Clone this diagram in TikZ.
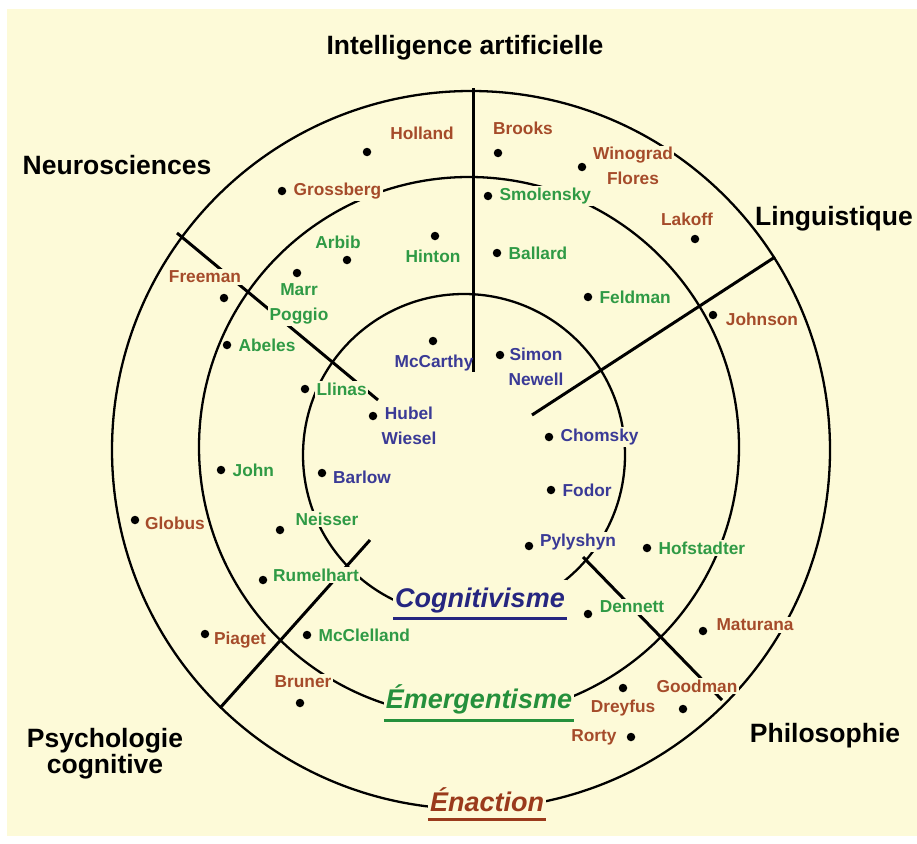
\documentclass[tikz,border=0pt]{standalone}
\usepackage{fontspec}
\setmainfont{Liberation Sans}
\usetikzlibrary{positioning}
\definecolor{cream}{HTML}{FDFAD8}
\definecolor{enact}{HTML}{A54B2A}
\definecolor{emerg}{HTML}{2F9A45}
\definecolor{cogn}{HTML}{3A3A96}
\definecolor{enactdark}{HTML}{9A3A1C}
\definecolor{emergdark}{HTML}{25903C}
\definecolor{cogndark}{HTML}{262680}
\tikzset{
  ring/.style={line width=2.3pt},
  axis/.style={line width=3pt},
  spot/.style={circle,fill=black,inner sep=0pt,minimum size=8.5pt},
  who/.style={fill=cream,inner sep=1.5pt,align=center,
    font=\fontsize{17.3}{24.5}\selectfont\bfseries},
  ena/.style={who,text=enact},
  eme/.style={who,text=emerg},
  cog/.style={who,text=cogn},
  field/.style={inner sep=0pt,align=center,font=\fontsize{26.5}{24}\selectfont\bfseries},
  school/.style={fill=cream,inner xsep=2pt,inner ysep=7pt,anchor=base,
    font=\fontsize{27}{30}\selectfont\bfseries\itshape},
  uline/.style={line width=3pt}
}
\begin{document}
\begin{tikzpicture}[x=1pt,y=-1pt,node distance=5.5pt]
    \useasboundingbox (0,0) rectangle (917,843);
    \fill[white] (0,0) rectangle (917,843);
    \fill[cream] (7,9) rectangle (917,836);
    \draw[ring] (471,450) circle[radius=359pt];
    \draw[ring] (469,447) circle[radius=270pt];
    \draw[ring] (464,455) circle[radius=161pt];
    \draw[axis] (473,88) -- (473,372);
    \draw[axis] (775,257) -- (532,415);
    \draw[axis] (177,233) -- (378,400);
    \draw[axis] (220,708) -- (370,540);
    \draw[axis] (722,700) -- (583,557);

    \node[field] (ia) at (465,48) {Intelligence artificielle};
    \node[field] (neuro) at (117,165) {Neurosciences};
    \node[field,anchor=west] (ling) at (755,219) {Linguistique};
    \node[field] (psycho) at (105,754) {Psychologie\\cognitive};
    \node[field] (philo) at (825,736) {Philosophie};

    \node[school,text=cogndark] (cognitivisme) at (480,607) {Cognitivisme};
    \node[school,text=emergdark] (emergentisme) at (479,708) {Émergentisme};
    \node[school,text=enactdark] (enaction) at (487,811) {Énaction};
    \draw[uline,cogndark] ([yshift=-11pt]cognitivisme.base west) -- ([yshift=-11pt]cognitivisme.base east);
    \draw[uline,emergdark] ([yshift=-12pt]emergentisme.base west) -- ([yshift=-12pt]emergentisme.base east);
    \draw[uline,enactdark] ([yshift=-8pt]enaction.base west) -- ([yshift=-8pt]enaction.base east);

    \node[spot] (hollandpt) at (367,152) {};
    \node[spot] (brookspt) at (498,153) {};
    \node[spot] (winogradpt) at (582,167) {};
    \node[spot] (grossbergpt) at (282,191) {};
    \node[spot] (lakoffpt) at (695,239) {};
    \node[spot] (freemanpt) at (224,298) {};
    \node[spot] (johnsonpt) at (713,315) {};
    \node[spot] (globuspt) at (135,520) {};
    \node[spot] (piagetpt) at (205,634) {};
    \node[spot] (maturanapt) at (703,631) {};
    \node[spot] (brunerpt) at (300,703) {};
    \node[spot] (goodmanpt) at (683,709) {};
    \node[spot] (dreyfuspt) at (623,688) {};
    \node[spot] (rortypt) at (631,737) {};

    \node[spot] (smolenskypt) at (488,196) {};
    \node[spot] (arbibpt) at (347,260) {};
    \node[spot] (hintonpt) at (435,236) {};
    \node[spot] (ballardpt) at (497,253) {};
    \node[spot] (marrpt) at (297,273) {};
    \node[spot] (feldmanpt) at (588,297) {};
    \node[spot] (abelespt) at (227,345) {};
    \node[spot] (llinaspt) at (305,389) {};
    \node[spot] (johnpt) at (221,470) {};
    \node[spot] (neisserpt) at (280,530) {};
    \node[spot] (rumelhartpt) at (263,580) {};
    \node[spot] (mcclellandpt) at (307,635) {};
    \node[spot] (hofstadterpt) at (647,548) {};
    \node[spot] (dennettpt) at (588,614) {};

    \node[spot] (mccarthypt) at (433,341) {};
    \node[spot] (simonpt) at (500,355) {};
    \node[spot] (hubelpt) at (373,416) {};
    \node[spot] (barlowpt) at (322,473) {};
    \node[spot] (chomskypt) at (549,437) {};
    \node[spot] (fodorpt) at (551,490) {};
    \node[spot] (pylyshynpt) at (529,546) {};

    \node[ena] (holland) at (422,133) {Holland};
    \node[ena] (brooks) at (523,128) {Brooks};
    \node[ena] (winograd) at (633,166) {Winograd\\Flores};
    \node[ena,right=of grossbergpt] (grossberg) {Grossberg};
    \node[ena] (lakoff) at (687,219) {Lakoff};
    \node[ena] (freeman) at (205,277) {Freeman};
    \node[ena] (johnson) at (762,319) {Johnson};
    \node[ena] (globus) at (175,523) {Globus};
    \node[ena] (piaget) at (240,640) {Piaget};
    \node[ena] (maturana) at (755,625) {Maturana};
    \node[ena] (bruner) at (303,682) {Bruner};
    \node[ena] (goodman) at (697,686) {Goodman};
    \node[ena] (dreyfus) at (623,708) {Dreyfus};
    \node[ena] (rorty) at (594,737) {Rorty};

    \node[eme,right=of smolenskypt] (smolensky) {Smolensky};
    \node[eme] (arbib) at (338,242) {Arbib};
    \node[eme] (hinton) at (433,256) {Hinton};
    \node[eme,right=of ballardpt] (ballard) {Ballard};
    \node[eme] (marr) at (299,304) {Marr\\Poggio};
    \node[eme,right=of feldmanpt] (feldman) {Feldman};
    \node[eme,right=of abelespt] (abeles) {Abeles};
    \node[eme,right=of llinaspt] (llinas) {Llinas};
    \node[eme,right=of johnpt] (john) {John};
    \node[eme] (neisser) at (327,519) {Neisser};
    \node[eme] (rumelhart) at (316,575) {Rumelhart};
    \node[eme,right=of mcclellandpt] (mcclelland) {McClelland};
    \node[eme,right=of hofstadterpt] (hofstadter) {Hofstadter};
    \node[eme] (dennett) at (632,607) {Dennett};

    \node[cog,fill=none] (mccarthy) at (434,363) {McCarthy};
    \node[cog] (simon) at (536,367) {Simon\\Newell};
    \node[cog] (hubel) at (409,426) {Hubel\\Wiesel};
    \node[cog] (barlow) at (362,477) {Barlow};
    \node[cog,right=of chomskypt] (chomsky) {Chomsky};
    \node[cog,right=of fodorpt] (fodor) {Fodor};
    \node[cog] (pylyshyn) at (578,542) {Pylyshyn};
\end{tikzpicture}
\end{document}
